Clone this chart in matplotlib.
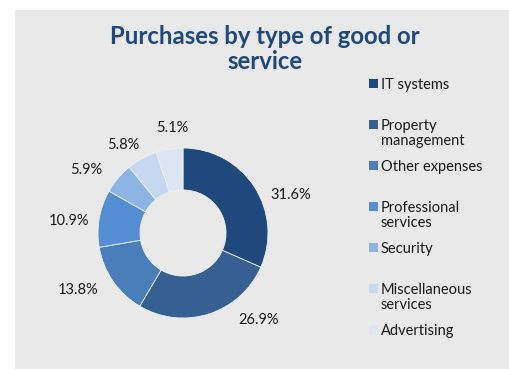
import numpy as np
import matplotlib

matplotlib.use("Agg", force=True)
import matplotlib.pyplot as plt
from matplotlib.patches import Rectangle

categories = [
    "IT systems",
    "Property\nmanagement",
    "Other expenses",
    "Professional\nservices",
    "Security",
    "Miscellaneous\nservices",
    "Advertising",
]
shares = [31.6, 26.9, 13.8, 10.9, 5.9, 5.8, 5.1]
colors = ["#1F497D", "#376092", "#4A7EBB", "#558ED5", "#8DB4E2", "#C6D9F1", "#DCE6F2"]

# label placement: clockwise nudge (deg) from wedge middle, and radius in pie units
label_nudge = [13.7, -23.2, 6.1, -3.9, -7.1, -5.2, 3.2]
label_radius = [1.34, 1.36, 1.40, 1.35, 1.36, 1.25, 1.24]

W, H = 509, 369
panel = "#E9E9E9"
title_color = "#1F497D"
font = "Lato"

fig = plt.figure(figsize=(W / 100, H / 100), dpi=100)
fig.patch.set_facecolor("white")
fig.patches.append(Rectangle((15 / W, 0), 1 - 15 / W, 1 - 10 / H,
                             transform=fig.transFigure, facecolor=panel,
                             edgecolor="none", zorder=-5))

# donut: centre (183, 233) px, outer radius 85 px
cx, cy, R = 183, 233, 85
span = 1.6
size = 2 * span * R
ax = fig.add_axes([(cx - size / 2) / W, (H - cy - size / 2) / H, size / W, size / H])
ax.set_zorder(1)

ax.pie(shares, colors=colors, startangle=90, counterclock=False, radius=1.0,
       wedgeprops=dict(width=0.494, edgecolor="#EEF2F8", linewidth=0.6))
# pie() resets the limits, so fix them afterwards
ax.set_xlim(-span, span)
ax.set_ylim(-span, span)
ax.set_aspect("equal")
ax.axis("off")

cum = np.cumsum([0] + shares[:-1])
for v, c0, nudge, r in zip(shares, cum, label_nudge, label_radius):
    cw = (c0 + v / 2) / sum(shares) * 360 + nudge
    th = np.deg2rad(90 - cw)
    ax.text(r * np.cos(th), r * np.sin(th), f"{v:.1f}%", ha="center", va="center",
            fontsize=10.5, family=font, color="#1A1A1A", clip_on=False)

fig.text(265 / W, 1 - 49 / H, "Purchases by type of good or\nservice", ha="center",
         va="center", fontsize=17.2, family=font, fontweight="bold",
         color=title_color, linespacing=1.1)

# legend, one entry every 41 px
for i, (name, col) in enumerate(zip(categories, colors)):
    y = 83 + 41 * i
    fig.patches.append(Rectangle((369 / W, 1 - (y + 4.5) / H), 9 / W, 9 / H,
                                 transform=fig.transFigure, facecolor=col,
                                 edgecolor="none", zorder=2))
    fig.text(381 / W, 1 - (y - 5) / H, name, ha="left", va="top", fontsize=10.5,
             family=font, color="#1A1A1A", linespacing=1.1)

fig.savefig("out.png", dpi=100)
